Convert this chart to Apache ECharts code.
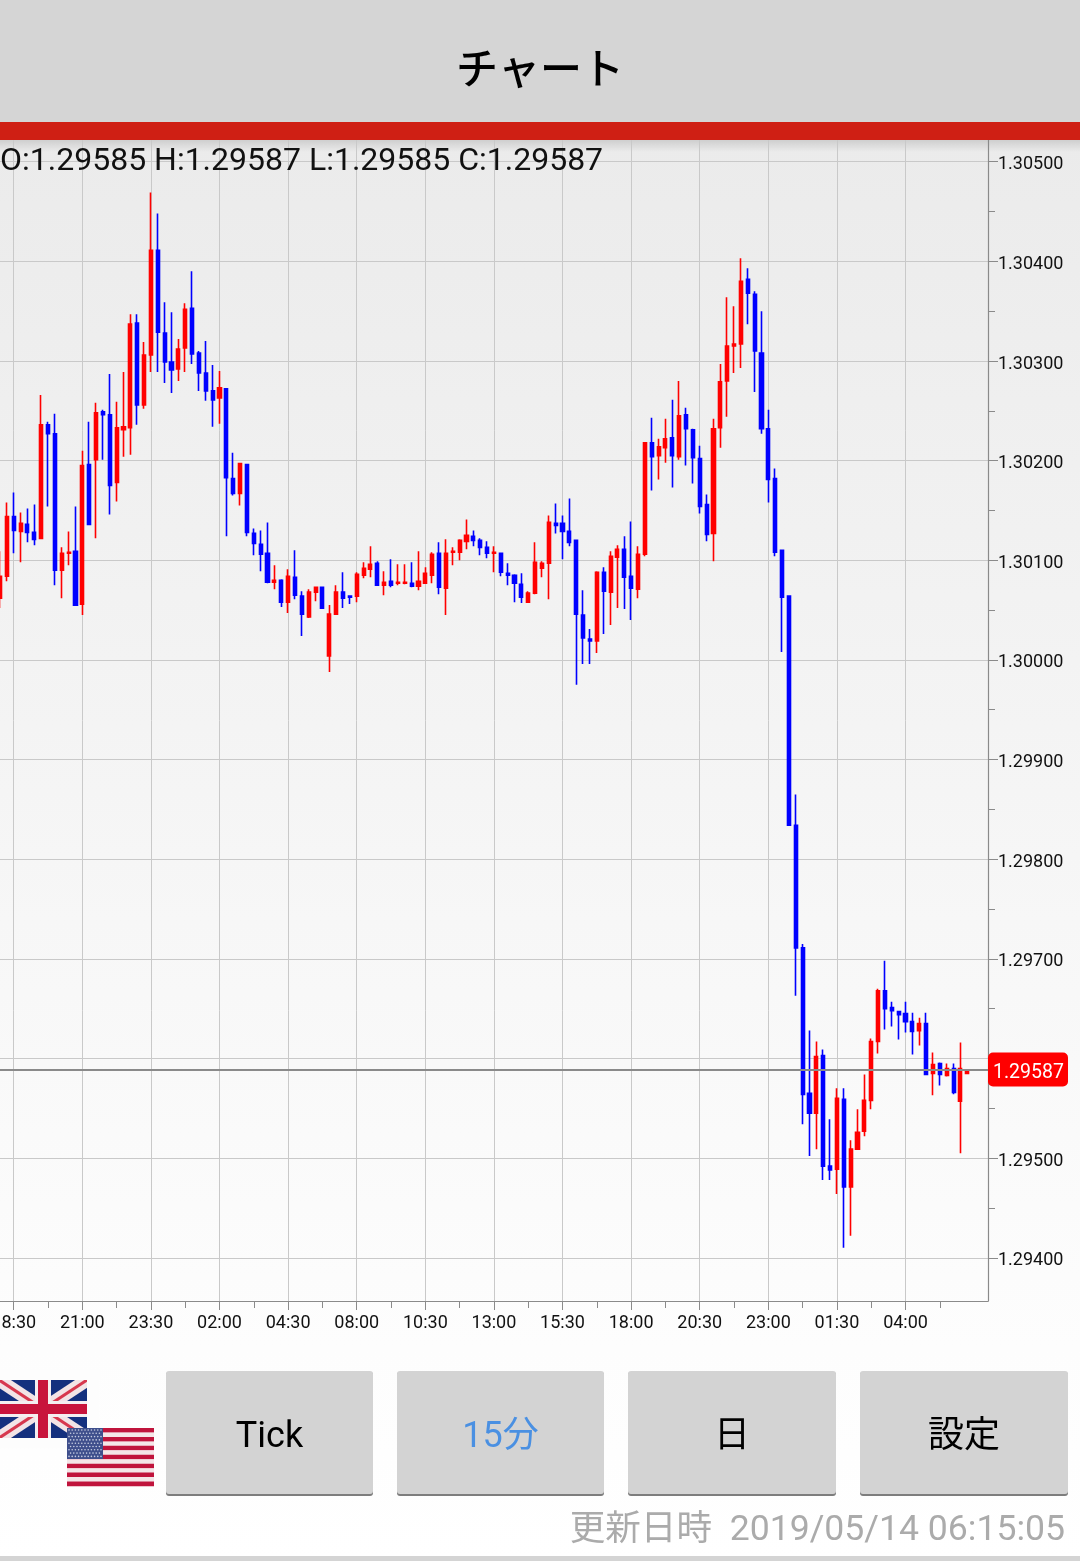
<!DOCTYPE html>
<html><head><meta charset="utf-8">
<style>html,body{margin:0;padding:0;background:#fff}#c{width:1080px;height:1561px}</style>
<script src="https://cdn.jsdelivr.net/npm/echarts@6/dist/echarts.min.js"></script>
</head><body><div id="c"></div>
<script>
const title = 'チャート';
const ohlcText = 'O:1.29585 H:1.29587 L:1.29585 C:1.29587';
const updated = '更新日時  2019/05/14 06:15:05';
const buttons = ['Tick', '15分', '日', '設定'];
const currentPrice = '1.29587';
const currentLine = 1.29589;
const firstBar = -2;

const opens = [
1.30062,1.30084,1.30144,1.30129,1.30136,1.30128,1.30122,1.30236,1.30227,1.30090,
1.30107,1.30109,1.30056,1.30196,1.30201,1.30249,1.30246,1.30178,1.30231,1.30233,
1.30338,1.30256,1.30306,1.30411,1.30328,1.30299,1.30292,1.30313,1.30353,1.30308,
1.30288,1.30270,1.30263,1.30272,1.30182,1.30167,1.30196,1.30127,1.30116,1.30107,
1.30078,1.30080,1.30058,1.30083,1.30064,1.30043,1.30068,1.30073,1.30004,1.30046,
1.30068,1.30064,1.30064,1.30085,1.30091,1.30097,1.30075,1.30079,1.30077,1.30077,
1.30077,1.30074,1.30077,1.30085,1.30107,1.30072,1.30108,1.30108,1.30119,1.30124,
1.30120,1.30113,1.30107,1.30107,1.30087,1.30085,1.30076,1.30058,1.30067,1.30092,
1.30097,1.30137,1.30137,1.30129,1.30120,1.30045,1.30021,1.30019,1.30088,1.30068,
1.30103,1.30111,1.30084,1.30071,1.30106,1.30218,1.30205,1.30213,1.30223,1.30204,
1.30246,1.30231,1.30202,1.30156,1.30127,1.30233,1.30280,1.30315,1.30317,1.30382,
1.30367,1.30308,1.30232,1.30182,1.30110,1.30064,1.29834,1.29711,1.29565,1.29545,
1.29603,1.29492,1.29489,1.29559,1.29471,1.29509,1.29527,1.29558,1.29617,1.29668,
1.29651,1.29647,1.29645,1.29637,1.29628,1.29635,1.29585,1.29595,1.29583,1.29590,
1.29557,1.29585];
const highs = [
1.30109,1.30158,1.30168,1.30148,1.30152,1.30156,1.30266,1.30239,1.30247,1.30113,
1.30129,1.30154,1.30210,1.30239,1.30258,1.30251,1.30287,1.30259,1.30289,1.30347,
1.30347,1.30319,1.30469,1.30448,1.30359,1.30349,1.30322,1.30358,1.30390,1.30310,
1.30320,1.30296,1.30290,1.30272,1.30208,1.30198,1.30197,1.30132,1.30130,1.30138,
1.30095,1.30081,1.30091,1.30110,1.30069,1.30071,1.30073,1.30073,1.30055,1.30075,
1.30088,1.30065,1.30088,1.30098,1.30114,1.30099,1.30089,1.30101,1.30096,1.30096,
1.30098,1.30109,1.30093,1.30108,1.30118,1.30121,1.30113,1.30121,1.30141,1.30130,
1.30122,1.30119,1.30114,1.30107,1.30097,1.30086,1.30087,1.30069,1.30118,1.30099,
1.30145,1.30157,1.30145,1.30162,1.30120,1.30070,1.30031,1.30089,1.30093,1.30109,
1.30115,1.30124,1.30139,1.30114,1.30218,1.30243,1.30222,1.30242,1.30261,1.30280,
1.30253,1.30232,1.30215,1.30166,1.30242,1.30297,1.30364,1.30355,1.30403,1.30393,
1.30370,1.30350,1.30251,1.30192,1.30110,1.30065,1.29865,1.29715,1.29628,1.29617,
1.29609,1.29539,1.29570,1.29570,1.29518,1.29549,1.29584,1.29620,1.29670,1.29698,
1.29657,1.29647,1.29657,1.29646,1.29641,1.29646,1.29606,1.29596,1.29595,1.29595,
1.29616,1.29587];
const lows = [
1.30052,1.30079,1.30107,1.30098,1.30118,1.30115,1.30121,1.30154,1.30075,1.30062,
1.30095,1.30055,1.30045,1.30136,1.30122,1.30201,1.30146,1.30159,1.30204,1.30206,
1.30236,1.30252,1.30289,1.30289,1.30278,1.30268,1.30280,1.30289,1.30297,1.30270,
1.30260,1.30234,1.30237,1.30124,1.30165,1.30155,1.30124,1.30105,1.30089,1.30077,
1.30071,1.30053,1.30047,1.30061,1.30024,1.30042,1.30059,1.30051,1.29988,1.30045,
1.30052,1.30056,1.30058,1.30082,1.30083,1.30075,1.30065,1.30073,1.30075,1.30076,
1.30073,1.30070,1.30077,1.30077,1.30066,1.30045,1.30095,1.30100,1.30111,1.30114,
1.30105,1.30102,1.30088,1.30084,1.30075,1.30058,1.30057,1.30057,1.30066,1.30083,
1.30061,1.30127,1.30101,1.30114,1.29975,1.29996,1.29996,1.30007,1.30026,1.30035,
1.30052,1.30051,1.30040,1.30062,1.30104,1.30170,1.30181,1.30198,1.30173,1.30201,
1.30195,1.30177,1.30147,1.30119,1.30099,1.30213,1.30244,1.30288,1.30293,1.30337,
1.30269,1.30227,1.30158,1.30104,1.30008,1.29834,1.29663,1.29534,1.29502,1.29509,
1.29478,1.29478,1.29464,1.29410,1.29422,1.29509,1.29522,1.29549,1.29605,1.29629,
1.29632,1.29619,1.29626,1.29604,1.29613,1.29584,1.29563,1.29573,1.29582,1.29564,
1.29505,1.29585];
const closes = [
1.30084,1.30144,1.30130,1.30137,1.30128,1.30121,1.30236,1.30227,1.30090,1.30107,
1.30108,1.30055,1.30195,1.30136,1.30248,1.30246,1.30175,1.30233,1.30234,1.30337,
1.30256,1.30306,1.30411,1.30329,1.30299,1.30291,1.30312,1.30352,1.30307,1.30288,
1.30270,1.30261,1.30273,1.30183,1.30167,1.30197,1.30128,1.30117,1.30106,1.30078,
1.30080,1.30058,1.30084,1.30065,1.30046,1.30068,1.30073,1.30052,1.30046,1.30068,
1.30062,1.30063,1.30086,1.30092,1.30096,1.30075,1.30078,1.30075,1.30078,1.30078,
1.30074,1.30079,1.30087,1.30106,1.30073,1.30107,1.30109,1.30120,1.30125,1.30120,
1.30113,1.30107,1.30108,1.30088,1.30085,1.30077,1.30063,1.30067,1.30098,1.30097,
1.30138,1.30135,1.30129,1.30118,1.30046,1.30022,1.30019,1.30088,1.30069,1.30104,
1.30111,1.30083,1.30072,1.30106,1.30218,1.30204,1.30214,1.30222,1.30205,1.30245,
1.30232,1.30203,1.30154,1.30126,1.30232,1.30279,1.30315,1.30317,1.30380,1.30368,
1.30310,1.30232,1.30181,1.30108,1.30063,1.29834,1.29711,1.29564,1.29545,1.29602,
1.29492,1.29488,1.29560,1.29471,1.29509,1.29526,1.29558,1.29617,1.29668,1.29650,
1.29648,1.29644,1.29637,1.29627,1.29635,1.29584,1.29594,1.29584,1.29590,1.29566,
1.29590,1.29587];

const timeLabels = ['18:30','21:00','23:30','02:00','04:30','08:00','10:30','13:00','15:30','18:00','20:30','23:00','01:30','04:00'];
const majorBars = [0,10,20,30,40,50,60,70,80,90,100,110,120,130];
const minorBars = [5,15,25,35,45,55,65,75,85,95,105,115,125,135];
const priceTicks = [1.305,1.304,1.303,1.302,1.301,1.300,1.299,1.298,1.297,1.296,1.295,1.294];
const priceLabels = [1.305,1.304,1.303,1.302,1.301,1.300,1.299,1.298,1.297,1.295,1.294];
const priceMinorTicks = [1.3045,1.3035,1.3025,1.3015,1.3005,1.2995,1.2985,1.2975,1.2965,1.2955,1.2945,1.2935];

const candles = opens.map((o,i)=>[firstBar+i, o, closes[i], lows[i], highs[i]]);

const font = 'Roboto, "Noto Sans", sans-serif';
const cjk = '"Noto Sans CJK JP", sans-serif';
const btnX = [166,397,628,860], btnW = [207,207,208,208];
const btnColor = ['#000','#4a90e2','#000','#000'];

const g = [];
g.push({type:'rect',z:-10,shape:{x:0,y:140,width:1080,height:1421},style:{fill:new echarts.graphic.LinearGradient(0,0,0,1,[{offset:0,color:'#ebebeb'},{offset:0.55,color:'#f7f7f7'},{offset:0.85,color:'#fdfdfd'},{offset:1,color:'#ffffff'}])}});
g.push({type:'rect',z:-9,shape:{x:0,y:140,width:1080,height:12},style:{fill:new echarts.graphic.LinearGradient(0,0,0,1,[{offset:0,color:'rgba(0,0,0,0.12)'},{offset:1,color:'rgba(0,0,0,0)'}])}});
g.push({type:'rect',z:20,shape:{x:0,y:0,width:1080,height:122},style:{fill:'#d5d5d5'}});
g.push({type:'rect',z:20,shape:{x:0,y:122,width:1080,height:18},style:{fill:'#cf1f14'}});
g.push({type:'text',z:21,x:540,y:68,style:{text:title,font:'500 42px '+cjk,fill:'#000',align:'center',verticalAlign:'middle'}});
g.push({type:'text',z:21,x:0,y:162,style:{text:ohlcText,font:'32px '+font,fill:'#111',align:'left',verticalAlign:'middle'}});

buttons.forEach((b,i)=>{
  g.push({type:'rect',z:20,shape:{x:btnX[i],y:1372,width:btnW[i],height:124,r:3},style:{fill:'#7d7d7d'}});
  g.push({type:'rect',z:20,shape:{x:btnX[i],y:1371,width:btnW[i],height:123,r:3},style:{fill:'#d3d3d3'}});
  g.push({type:'text',z:21,x:btnX[i]+btnW[i]/2,y:1438,style:{text:b,font:'36px '+(i==0?font:'Roboto, "Noto Sans CJK JP", sans-serif'),fill:btnColor[i],align:'center',verticalAlign:'middle'}});
});
g.push({type:'text',z:21,x:1065,y:1531,style:{text:updated,font:'35.6px Roboto, "Noto Sans CJK JP", sans-serif',fill:'#ababab',align:'right',verticalAlign:'middle'}});
g.push({type:'rect',z:20,shape:{x:0,y:1556,width:1080,height:5},style:{fill:'#d4d4d4'}});

// UK flag
const ukX=-1,ukY=1380,ukW=88,ukH=58;
g.push({type:'rect',z:20,shape:{x:ukX,y:ukY,width:ukW,height:ukH},style:{fill:'#14307e'}});
[[0,0,ukW,ukH],[ukW,0,0,ukH]].forEach(l=>{
  g.push({type:'line',z:20,shape:{x1:ukX+l[0],y1:ukY+l[1],x2:ukX+l[2],y2:ukY+l[3]},style:{stroke:'#f2e4e6',lineWidth:13}});
  g.push({type:'line',z:20,shape:{x1:ukX+l[0],y1:ukY+l[1],x2:ukX+l[2],y2:ukY+l[3]},style:{stroke:'#d7384e',lineWidth:3}});
});
g.push({type:'rect',z:20,shape:{x:ukX+ukW/2-8,y:ukY,width:16,height:ukH},style:{fill:'#f4eef0'}});
g.push({type:'rect',z:20,shape:{x:ukX,y:ukY+ukH/2-8,width:ukW,height:16},style:{fill:'#f4eef0'}});
g.push({type:'rect',z:20,shape:{x:ukX+ukW/2-5,y:ukY,width:10,height:ukH},style:{fill:'#c8143c'}});
g.push({type:'rect',z:20,shape:{x:ukX,y:ukY+ukH/2-5,width:ukW,height:10},style:{fill:'#c8143c'}});
// masks trimming the diagonal stroke ends to the flag's edges
g.push({type:'rect',z:20,shape:{x:0,y:ukY-10,width:100,height:10},style:{fill:'#fdfdfd'}});
g.push({type:'rect',z:20,shape:{x:0,y:ukY+ukH,width:100,height:10},style:{fill:'#fdfdfd'}});
g.push({type:'rect',z:20,shape:{x:ukX+ukW,y:ukY-10,width:12,height:ukH+20},style:{fill:'#fdfdfd'}});
// US flag
const usX=67,usY=1428,usW=87,usH=58;
for(let s=0;s<13;s++){
  g.push({type:'rect',z:22,shape:{x:usX,y:usY+s*usH/13,width:usW,height:usH/13+0.3},style:{fill:s%2?'#f4e6e8':'#c0143c'}});
}
g.push({type:'rect',z:23,shape:{x:usX,y:usY,width:36,height:31},style:{fill:'#3f4f8c'}});
for(let r=0;r<9;r++){for(let c=0;c<(r%2?10:11);c++){
  g.push({type:'circle',z:24,shape:{cx:usX+2+c*3.2+(r%2?1.6:0),cy:usY+2+r*3.3,r:0.8},style:{fill:'#c7cde2'}});
}}

const chart = echarts.init(document.getElementById('c'),null,{renderer:'canvas',width:1080,height:1561});
const tickLabelFmt = v => { const i = majorBars.indexOf(Math.round(v)); return i<0?'':timeLabels[i]; };
chart.setOption({
  animation:false,
  backgroundColor:'#ffffff',
  graphic:{elements:g},
  grid:{left:0,right:92,top:140,height:1161,containLabel:false,outerBoundsMode:'none'},
  xAxis:[
    {type:'value',min:-2,max:142.02,
     axisLine:{show:true,onZero:false,lineStyle:{color:'#8a8a8a',width:1}},
     axisTick:{show:true,customValues:majorBars,length:9,lineStyle:{color:'#8a8a8a',width:1}},
     axisLabel:{show:true,customValues:majorBars,formatter:tickLabelFmt,color:'#111',fontFamily:font,fontSize:18,margin:13,hideOverlap:false},
     splitLine:{show:true,lineStyle:{color:'#c9c9c9',width:1}}},
    {type:'value',min:-2,max:142.02,position:'bottom',
     axisLine:{show:false,onZero:false},
     axisTick:{show:true,customValues:minorBars,length:7,lineStyle:{color:'#8a8a8a',width:1}},
     axisLabel:{show:false},splitLine:{show:false}}
  ],
  yAxis:[
    {type:'value',position:'right',min:1.293566,max:1.305218,scale:true,
     axisLine:{show:true,onZero:false,lineStyle:{color:'#8a8a8a',width:1.2}},
     axisTick:{show:true,customValues:priceTicks,length:10,lineStyle:{color:'#8a8a8a',width:1}},
     axisLabel:{show:true,customValues:priceLabels,formatter:v=>'{a|'+v.toFixed(5)+'}',margin:10,
       rich:{a:{color:'#111',fontFamily:font,fontSize:18,padding:[6,0,0,0]}}},
     splitLine:{show:true,lineStyle:{color:'#c9c9c9',width:1}}},
    {type:'value',position:'right',min:1.293566,max:1.305218,scale:true,
     axisLine:{show:false,onZero:false},
     axisTick:{show:true,customValues:priceMinorTicks,length:7,lineStyle:{color:'#8a8a8a',width:1}},
     axisLabel:{show:false},splitLine:{show:false}}
  ],
  series:[{
    type:'candlestick',xAxisIndex:0,yAxisIndex:0,barWidth:3.6,clip:true,
    data:candles,
    encode:{x:0,y:[1,2,3,4]},
    itemStyle:{color:'#ff0000',color0:'#0000ff',borderColor:'#ff0000',borderColor0:'#0000ff',borderWidth:1.6},
    markLine:{silent:true,symbol:'none',animation:false,precision:5,
      lineStyle:{color:'#8a8a8a',width:2,type:'solid'},
      label:{show:true,position:'end',formatter:'{t|'+currentPrice+'}',distance:0,backgroundColor:'#ff0000',borderRadius:5,padding:[3,5,2,5],align:'left',
        rich:{t:{color:'#fff',fontFamily:font,fontSize:19.5,padding:[8,0,1,0],width:70,height:20}}},
      data:[{yAxis:currentLine}]}
  }]
});
</script></body></html>
